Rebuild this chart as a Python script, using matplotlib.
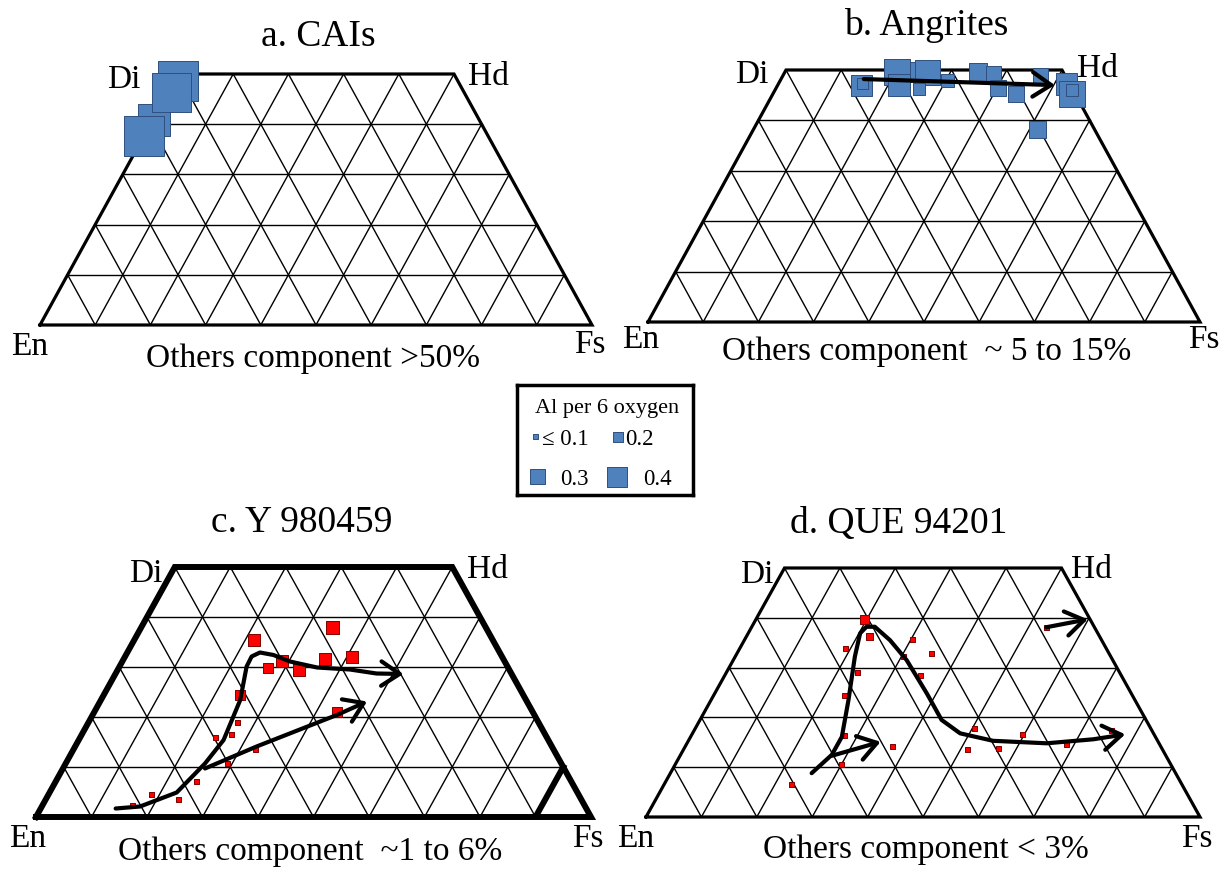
import matplotlib
matplotlib.use("Agg")
import numpy as np
from matplotlib import pyplot as plt
from matplotlib.patches import FancyArrowPatch
from matplotlib.path import Path

plt.rcParams["font.family"] = ["Liberation Serif", "DejaVu Serif"]

W, H = 1227, 871

# pyroxene compositions: Fs and Wo in mol%, Al per 6 oxygen
cai_fs = [0.6, 0.2, 0.7, 0.0]
cai_wo = [48.7, 40.8, 46.4, 37.6]
cai_al = [0.80, 0.64, 0.78, 0.80]

angrite_fs = [23.0, 15.3, 15.2, 20.2, 21.9, 25.8, 26.0, 30.3, 35.0, 37.9, 40.2, 44.1, 46.7, 51.5, 52.2, 54.2, 53.8]
angrite_wo = [49.6, 46.9, 47.4, 49.7, 47.1, 49.6, 46.2, 47.9, 49.7, 49.3, 46.5, 45.3, 48.9, 38.2, 47.2, 45.2, 46.1]
angrite_al = [0.40, 0.42, 0.22, 0.52, 0.44, 0.50, 0.23, 0.25, 0.36, 0.30, 0.32, 0.32, 0.31, 0.34, 0.43, 0.52, 0.24]

y98_fs = [16.2, 18.6, 24.0, 25.4, 29.1, 32.8, 27.0, 24.4, 26.8, 24.5, 43.8, 26.9, 21.6, 28.6, 32.7, 36.2, 41.0, 34.5]
y98_wo = [2.4, 4.5, 3.5, 7.1, 10.8, 13.5, 16.5, 16.0, 18.9, 24.5, 21.0, 29.8, 35.4, 31.3, 29.5, 31.7, 32.0, 37.9]
y98_al = [0.10, 0.10, 0.10, 0.10, 0.10, 0.10, 0.10, 0.10, 0.10, 0.20, 0.20, 0.20, 0.24, 0.24, 0.24, 0.24, 0.24, 0.26]

que_fs = [19.6, 22.3, 19.1, 30.2, 30.3, 35.1, 23.7, 35.3, 23.7, 27.6, 50.5, 59.7, 75.3, 37.4, 51.2, 56.8, 68.6, 30.1, 23.1, 53.2]
que_wo = [39.7, 36.2, 33.9, 35.7, 32.3, 32.8, 29.0, 28.5, 24.4, 16.3, 17.7, 16.5, 17.3, 14.2, 13.5, 13.7, 14.5, 10.5, 6.5, 38.1]
que_al = [0.17, 0.14, 0.10, 0.10, 0.10, 0.10, 0.10, 0.10, 0.10, 0.10, 0.10, 0.10, 0.10, 0.10, 0.10, 0.10, 0.10, 0.10, 0.10, 0.10]

# hand-drawn zoning trends (Fs, Wo)
angrite_trend_fs = [15.0, 50.2]
angrite_trend_wo = [48.2, 47.0]

y98_trend1_fs = [13.5, 17.7, 22.9, 25.1, 26.1, 25.1, 22.9, 22.8, 23.9, 26.6, 30.2, 35.7, 41.8, 47.0, 51.9]
y98_trend1_wo = [1.7, 2.1, 4.9, 10.7, 15.4, 23.4, 30.1, 32.1, 32.9, 32.4, 31.1, 29.9, 29.5, 28.7, 28.6]
y98_trend2_fs = [25.6, 32.7, 44.0, 48.1]
y98_trend2_wo = [9.7, 14.1, 20.4, 23.1]

que_trend1_fs = [25.5, 27.3, 27.3, 24.8, 21.6, 20.2, 20.7, 22.2, 26.3, 31.3, 38.3, 43.6, 48.3, 55.0, 64.9, 72.9, 78.2]
que_trend1_wo = [8.8, 12.5, 16.1, 23.5, 32.2, 36.9, 38.2, 38.2, 35.5, 31.5, 24.8, 19.5, 16.8, 15.3, 14.8, 15.6, 16.6]
que_trend2_fs = [27.4, 34.8]
que_trend2_wo = [12.3, 15.1]
que_trend3_fs = [53.2, 59.9]
que_trend3_wo = [38.1, 39.7]

legend_al = [0.1, 0.2, 0.3, 0.4]
legend_labels = ["\u2264 0.1", "0.2", "0.3", "0.4"]

BLUE, BLUE_EDGE = "#4F81BD", "#2F4F7F"
RED, RED_EDGE = "#FF0000", "#800000"


def to_xy(fs, wo):
    fs = np.asarray(fs, dtype=float)
    wo = np.asarray(wo, dtype=float)
    return fs + wo / 2.0, wo


def marker_area(al):
    # square side grows with Al content
    side_pt = 36.0 * np.asarray(al)
    return side_pt ** 2


def make_panel(fig, box, frame_lw):
    x0, x1, ybase, ytop = box
    ax = fig.add_axes([x0 / W, 1 - ybase / H, (x1 - x0) / W, (ybase - ytop) / H])
    ax.set_xlim(0, 100)
    ax.set_ylim(0, 50)
    ax.axis("off")
    for wo in range(10, 50, 10):
        ax.plot([wo / 2, 100 - wo / 2], [wo, wo], color="black", lw=1.0, zorder=1)
    for b in range(10, 100, 10):
        top_r = min(50, 100 - b)
        top_l = min(50, b)
        ax.plot([b, b + top_r / 2], [0, top_r], color="black", lw=1.0, zorder=1)
        ax.plot([b, b - top_l / 2], [0, top_l], color="black", lw=1.0, zorder=1)
    ax.plot([0, 100, 75, 25, 0], [0, 0, 50, 50, 0], color="black", lw=frame_lw,
            solid_joinstyle="miter", zorder=2, clip_on=False)
    return ax


def add_labels(ax, title, note, pos):
    kw = dict(ha="center", va="baseline", color="black")
    ax.text(*pos["title"], title, fontsize=27, **kw)
    ax.text(*pos["Di"], "Di", fontsize=24, **kw)
    ax.text(*pos["Hd"], "Hd", fontsize=24, **kw)
    ax.text(*pos["En"], "En", fontsize=24, **kw)
    ax.text(*pos["Fs"], "Fs", fontsize=24, **kw)
    ax.text(*pos["note"], note, fontsize=24, **kw)


def add_points(ax, fs, wo, al, color, edge):
    x, y = to_xy(fs, wo)
    ax.scatter(x, y, s=marker_area(al), marker="s", color=color, edgecolors=edge,
               linewidths=0.7, zorder=3, clip_on=False)


def add_trend(ax, fs, wo):
    x, y = to_xy(fs, wo)
    arrow = FancyArrowPatch(path=Path(np.column_stack([x, y])),
                            arrowstyle="->,head_length=0.6,head_width=0.4",
                            mutation_scale=22, lw=3.0, color="black",
                            joinstyle="round", capstyle="round", zorder=4)
    ax.add_patch(arrow)


def add_legend(fig):
    lax = fig.add_axes([517 / W, 1 - 495 / H, 176 / W, 110 / H])
    lax.set_xlim(0, 176)
    lax.set_ylim(110, 0)
    lax.set_xticks([])
    lax.set_yticks([])
    for spine in lax.spines.values():
        spine.set_linewidth(2.5)
    lax.text(90, 28, "Al per 6 oxygen", fontsize=16, ha="center", va="baseline")
    mx = [18, 100.5, 20, 100]
    my = [52, 52, 92, 92]
    tx = [25, 108, 43, 126]
    ty = [60, 60, 100, 100]
    lax.scatter(mx, my, s=marker_area(legend_al), marker="s", color=BLUE,
                edgecolors=BLUE_EDGE, linewidths=0.7)
    for x, y, label in zip(tx, ty, legend_labels):
        lax.text(x, y, label, fontsize=16.5, ha="left", va="baseline")


def main():
    fig = plt.figure(figsize=(W / 100, H / 100), dpi=100)

    ax = make_panel(fig, (40, 592, 325, 74), 2.3)
    add_points(ax, cai_fs, cai_wo, cai_al, BLUE, BLUE_EDGE)
    add_labels(ax, "a. CAIs", "Others component >50%",
               {"title": (50.4, 55.6), "Di": (15.1, 47.2), "Hd": (81.3, 47.8),
                "En": (-1.8, -6.0), "Fs": (99.6, -5.6), "note": (49.5, -8.4)})

    ax = make_panel(fig, (648, 1200, 322, 70), 2.3)
    add_points(ax, angrite_fs, angrite_wo, angrite_al, BLUE, BLUE_EDGE)
    add_trend(ax, angrite_trend_fs, angrite_trend_wo)
    add_labels(ax, "b. Angrites", "Others component  ~ 5 to 15%",
               {"title": (50.4, 56.9), "Di": (18.75, 47.4), "Hd": (81.5, 48.6),
                "En": (-1.4, -5.2), "Fs": (100.7, -5.2), "note": (50.5, -7.5)})

    ax = make_panel(fig, (36, 591, 817, 567), 4.3)
    ax.plot([90, 95], [0, 10], color="black", lw=4.3, zorder=2)
    add_points(ax, y98_fs, y98_wo, y98_al, RED, RED_EDGE)
    add_trend(ax, y98_trend1_fs, y98_trend1_wo)
    add_trend(ax, y98_trend2_fs, y98_trend2_wo)
    add_labels(ax, "c. Y 980459", "Others component  ~1 to 6%",
               {"title": (47.9, 57.0), "Di": (19.8, 47.0), "Hd": (81.4, 47.8),
                "En": (-1.5, -6.0), "Fs": (99.5, -6.0), "note": (49.4, -8.6)})

    ax = make_panel(fig, (646, 1200, 817, 568), 2.3)
    add_points(ax, que_fs, que_wo, que_al, RED, RED_EDGE)
    add_trend(ax, que_trend1_fs, que_trend1_wo)
    add_trend(ax, que_trend2_fs, que_trend2_wo)
    add_trend(ax, que_trend3_fs, que_trend3_wo)
    add_labels(ax, "d. QUE 94201", "Others component < 3%",
               {"title": (45.6, 57.0), "Di": (20.0, 47.0), "Hd": (80.4, 48.0),
                "En": (-1.8, -6.0), "Fs": (99.5, -6.0), "note": (50.5, -8.2)})

    add_legend(fig)
    fig.savefig("out.png", dpi=100)


if __name__ == "__main__":
    main()
